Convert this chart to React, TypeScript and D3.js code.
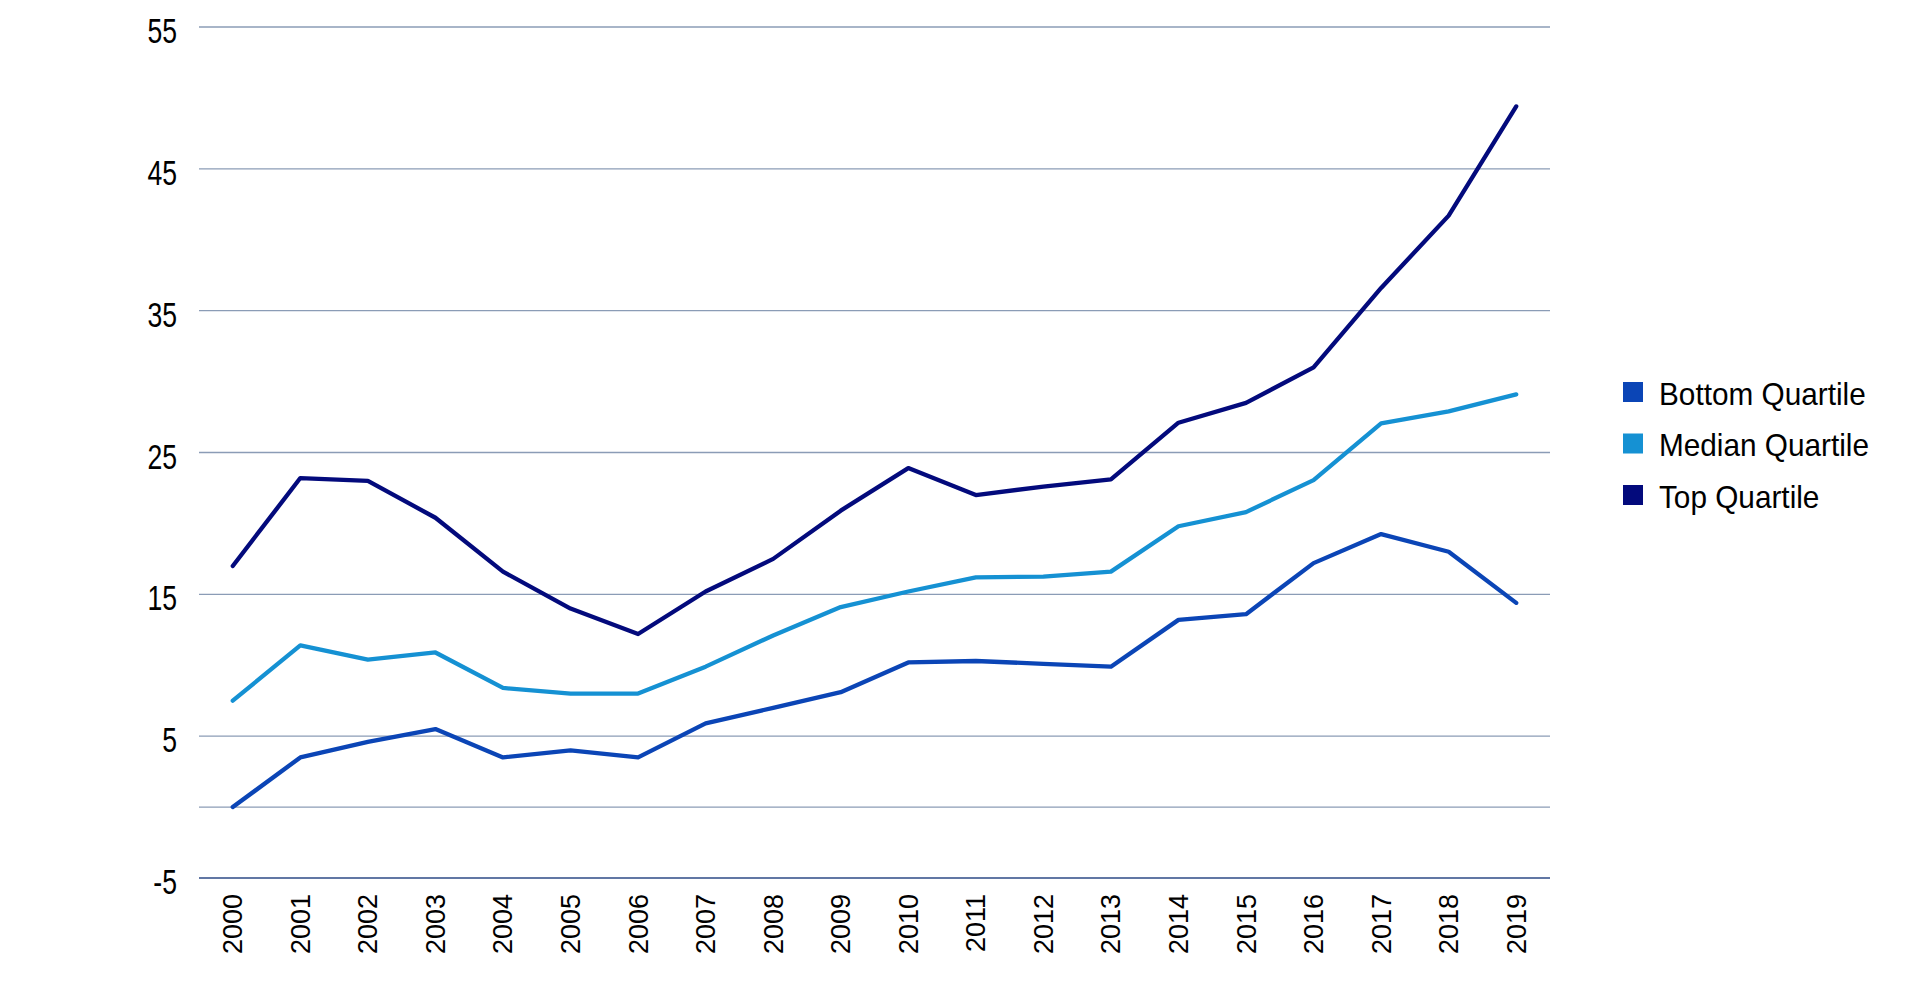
import React from "react";
import * as d3 from "d3";

const years = ["2000","2001","2002","2003","2004","2005","2006","2007","2008","2009","2010","2011","2012","2013","2014","2015","2016","2017","2018","2019"];
const bottomQuartile = [0.0, 3.5, 4.6, 5.5, 3.5, 4.0, 3.5, 5.9, 7.0, 8.1, 10.2, 10.3, 10.1, 9.9, 13.2, 13.6, 17.2, 19.25, 18.0, 14.4];
const medianQuartile = [7.5, 11.4, 10.4, 10.9, 8.4, 8.0, 8.0, 9.9, 12.1, 14.1, 15.2, 16.2, 16.25, 16.6, 19.8, 20.8, 23.05, 27.05, 27.9, 29.1];
const topQuartile = [17.0, 23.2, 23.0, 20.4, 16.6, 14.0, 12.2, 15.2, 17.5, 20.9, 23.9, 22.0, 22.6, 23.1, 27.1, 28.5, 31.0, 36.6, 41.7, 49.4];
const yTicks = [-5, 5, 15, 25, 35, 45, 55];

const series = [
  { name: "Bottom Quartile", values: bottomQuartile, color: "#0b45b6" },
  { name: "Median Quartile", values: medianQuartile, color: "#1591d3" },
  { name: "Top Quartile", values: topQuartile, color: "#030a7c" },
];

const W = 1918, H = 981;
const left = 199, right = 1550, top = 27, bottom = 878;

export default function App() {
  const x = d3.scaleBand<string>().domain(years).range([left, right]);
  const y = d3.scaleLinear().domain([-5, 55]).range([bottom, top]);
  const cx = (yr: string) => (x(yr) as number) + x.bandwidth() / 2;
  const line = d3
    .line<number>()
    .x((_, i) => cx(years[i]))
    .y((v) => y(v));
  const gridTicks = [...yTicks.filter((t) => t !== -5), 0];
  const font = "'Liberation Sans',Arial,sans-serif";

  return (
    <svg width={W} height={H} style={{ position: "absolute", left: 0, top: 0, background: "#fff" }}>
      {gridTicks.map((t) => (
        <line key={t} x1={left} x2={right} y1={y(t)} y2={y(t)} stroke="#8b9cb6" strokeWidth={1.3} />
      ))}
      <line x1={left} x2={right} y1={y(-5)} y2={y(-5)} stroke="#2d4a86" strokeWidth={1.6} />
      {yTicks.map((t) => (
        <text
          key={t}
          transform={`translate(177,${y(t) + 16}) scale(0.76,1)`}
          textAnchor="end"
          fontFamily={font}
          fontSize={35}
          fill="#000"
        >
          {t}
        </text>
      ))}
      {years.map((yr) => (
        <text
          key={yr}
          transform={`translate(${cx(yr) + 9.5},${894}) rotate(-90)`}
          textAnchor="end"
          fontFamily={font}
          fontSize={27}
          fill="#000"
        >
          {yr}
        </text>
      ))}
      {series.map((s) => (
        <path key={s.name} d={line(s.values) || ""} fill="none" stroke={s.color} strokeWidth={4.3} strokeLinejoin="round" strokeLinecap="round" />
      ))}
      {series.map((s, i) => (
        <g key={s.name} transform={`translate(1623,${382 + i * 51.5})`}>
          <rect x={0} y={0} width={20} height={20} fill={s.color} />
          <text transform="translate(36,22.5) scale(0.93,1)" fontFamily={font} fontSize={32} fill="#000">
            {s.name}
          </text>
        </g>
      ))}
    </svg>
  );
}
